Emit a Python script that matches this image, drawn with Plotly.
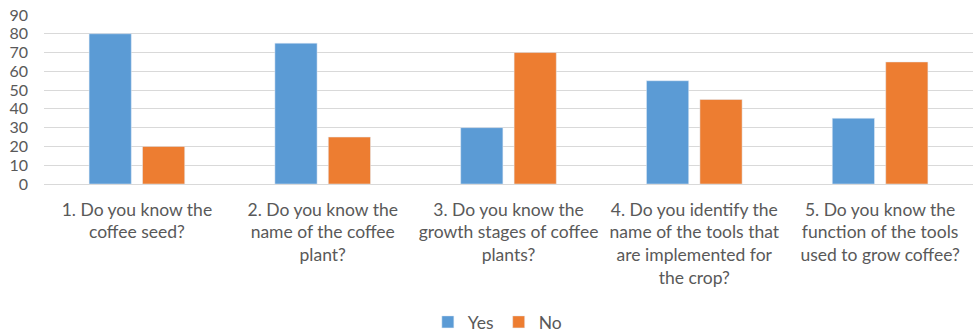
import plotly.graph_objects as go

categories = [
    "1. Do you know the<br>coffee seed?",
    "2. Do you know the<br>name of the coffee<br>plant?",
    "3. Do you know the<br>growth stages of coffee<br>plants?",
    "4. Do you identify the<br>name of the tools that<br>are implemented for<br>the crop?",
    "5. Do you know the<br>function of the tools<br>used to grow coffee?",
]
yes_values = [80, 75, 30, 55, 35]
no_values = [20, 25, 70, 45, 65]
y_ticks = [0, 10, 20, 30, 40, 50, 60, 70, 80, 90]

FONT = "Lato, Open Sans, sans-serif"
TXT = "#595959"

fig = go.Figure()
fig.add_trace(go.Bar(name="Yes", x=categories, y=yes_values, marker_color="#5B9BD5"))
fig.add_trace(go.Bar(name="No", x=categories, y=no_values, marker_color="#ED7D31"))

fig.update_layout(
    width=975, height=333,
    margin=dict(l=44, r=2, t=15, b=149, autoexpand=False),
    paper_bgcolor="white", plot_bgcolor="white",
    barmode="group", bargap=0.425, bargroupgap=0.21,
    font=dict(family=FONT, size=17.5, color=TXT),
    showlegend=True,
    legend=dict(orientation="h", x=0.488, xanchor="center",
                yref="container", y=0.033, yanchor="middle",
                font=dict(size=17.5, color=TXT), itemwidth=30, traceorder="normal"),
)
fig.update_xaxes(showgrid=False, showline=False, ticks="", tickfont=dict(size=17.5, color=TXT),
                 ticklabelstandoff=13, automargin=False)
fig.update_yaxes(range=[0, 90], tickvals=y_ticks, showgrid=True, gridcolor="#D9D9D9", gridwidth=1,
                 zeroline=True, zerolinecolor="#D9D9D9", zerolinewidth=1, automargin=False,
                 ticks="", tickfont=dict(size=16, color=TXT), ticklabelstandoff=15)

fig.write_html("out.html")
